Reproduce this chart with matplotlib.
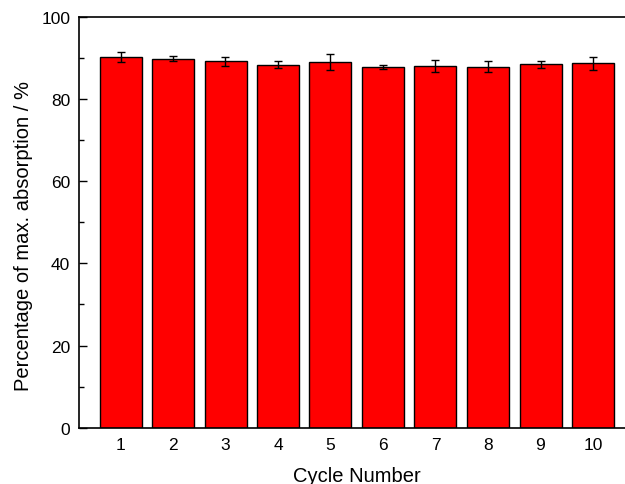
import matplotlib.pyplot as plt
from matplotlib.ticker import MultipleLocator

plt.rcParams["font.family"] = ["Liberation Sans", "DejaVu Sans"]

# values
cycles = [1, 2, 3, 4, 5, 6, 7, 8, 9, 10]
cycle_labels = ["1", "2", "3", "4", "5", "6", "7", "8", "9", "10"]
percentage = [90.3, 89.8, 89.2, 88.4, 89.1, 87.8, 88.0, 87.9, 88.5, 88.7]
errors = [1.2, 0.6, 1.05, 0.8, 1.9, 0.45, 1.5, 1.4, 0.9, 1.6]

fig = plt.figure(figsize=(6.25, 4.85), dpi=100)
# axes runs past the right edge, like the cropped original
ax = fig.add_axes([78.5 / 625, 56.3 / 485, 556.5 / 625, 410.7 / 485])

ax.bar(
    cycles,
    percentage,
    width=0.8,
    color="#ff0000",
    edgecolor="black",
    linewidth=1.0,
    yerr=errors,
    capsize=3,
    error_kw={"elinewidth": 1.0, "capthick": 1.0, "ecolor": "black"},
)

ax.set_xlim(0.2, 10.8)
ax.set_ylim(0, 100)
ax.set_xticks(cycles)
ax.set_xticklabels(cycle_labels)
ax.yaxis.set_major_locator(MultipleLocator(20))
ax.yaxis.set_minor_locator(MultipleLocator(10))

ax.tick_params(axis="y", which="major", direction="in", length=6, width=1, labelsize=12.5, pad=6)
ax.tick_params(axis="y", which="minor", direction="in", length=3.5, width=1)
ax.tick_params(axis="x", which="major", direction="in", length=0, labelsize=12.5, pad=7)
ax.tick_params(right=False, top=False)

for s in ax.spines.values():
    s.set_linewidth(1.2)

ax.set_xlabel("Cycle Number", fontsize=14.5, labelpad=9.5)
ax.set_ylabel("Percentage of max. absorption / %", fontsize=14.5)
ax.yaxis.set_label_coords(-0.082, 0.469)

fig.savefig("out.png", dpi=100)
